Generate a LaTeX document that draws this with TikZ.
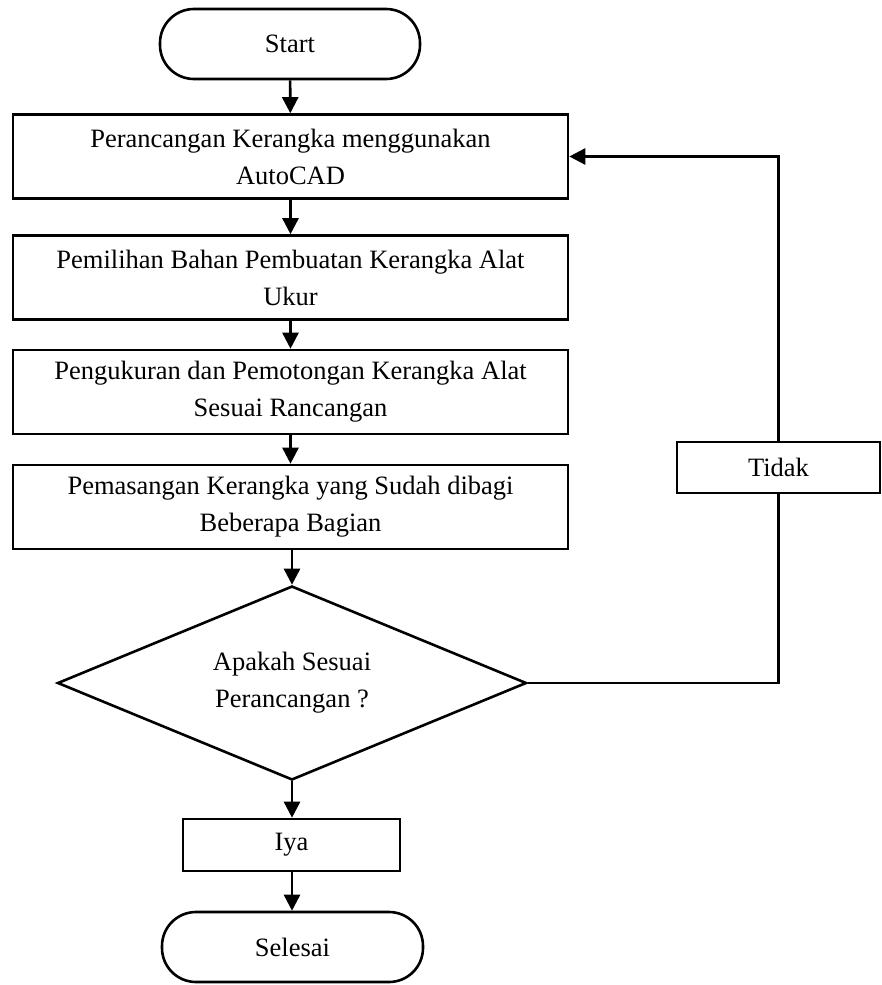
\documentclass[tikz,border=0pt]{standalone}
\usepackage{fontspec}
\setmainfont{Liberation Serif}
\usetikzlibrary{shapes.geometric,arrows.meta}
\begin{document}
\begin{tikzpicture}[x=1pt,y=-1pt,
  every node/.style={font=\fontsize{26.5}{37}\selectfont, inner sep=0pt, align=center},
  term/.style={draw, line width=2.6pt, rounded corners=34pt, minimum width=260pt, minimum height=70pt},
  proc/.style={draw, line width=2.6pt, minimum width=555pt, minimum height=84pt},
  smallbox/.style={draw, line width=2.6pt},
  decision/.style={draw, line width=2.6pt, diamond, aspect=2.42, minimum width=469pt, minimum height=194pt},
  arr/.style={line width=2.6pt, -{Triangle[length=16pt,width=16pt]}},
  conn/.style={line width=2.6pt}]
\useasboundingbox (0,0) rectangle (882,985);
\node[term] (start) at (290,44) {Start};
\node[proc] (b1) at (290.5,156.5) {Perancangan Kerangka menggunakan\\AutoCAD};
\node[proc] (b2) at (290.5,277.5) {Pemilihan Bahan Pembuatan Kerangka Alat\\Ukur};
\node[proc] (b3) at (290.5,392) {Pengukuran dan Pemotongan Kerangka Alat\\Sesuai Rancangan};
\node[proc] (b4) at (290.5,507) {Pemasangan Kerangka yang Sudah dibagi\\Beberapa Bagian};
\node[decision] (dec) at (292,683) {Apakah Sesuai\\Perancangan ?};
\node[smallbox, minimum width=217pt, minimum height=52pt] (iya) at (291.5,845) {Iya};
\node[term, minimum width=261pt, minimum height=70pt] (sel) at (292.5,947) {Selesai};
\node[smallbox, minimum width=203pt, minimum height=51pt] (tidak) at (778.5,467.5) {Tidak};
\draw[arr] (start) -- (b1);
\draw[arr] (b1) -- (b2);
\draw[arr] (b2) -- (b3);
\draw[arr] (b3) -- (b4);
\draw[arr] (b4.south -| dec.north) -- (dec.north);
\draw[arr] (dec.south) -- (dec.south |- iya.north);
\draw[arr] (iya.south -| dec.south) -- (dec.south |- sel.north);
\draw[conn] (dec.east) -| (tidak.south);
\draw[arr] (tidak.north) |- (b1.east);
\end{tikzpicture}
\end{document}
